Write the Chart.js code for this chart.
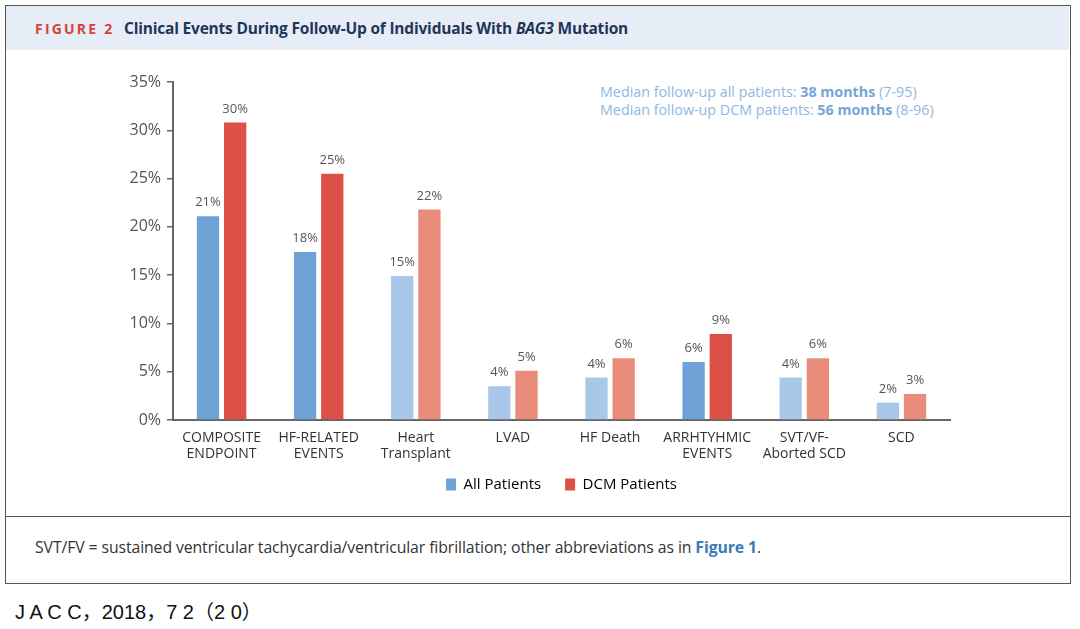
<!DOCTYPE html>
<html>
<head>
<meta charset="utf-8">
<script src="https://cdn.jsdelivr.net/npm/chart.js@4.4.0/dist/chart.umd.min.js"></script>
<style>
  body { margin: 0; width: 1080px; height: 629px; background: #fff; position: relative; overflow: hidden; font-family: "Open Sans", sans-serif; }
  .frame { position: absolute; left: 5px; top: 5px; width: 1066px; height: 579px; border: 1.5px solid #555; box-sizing: border-box; }
  .header { position: absolute; left: 6px; top: 6px; width: 1063px; height: 44px; background: #e6edf6; }
  .header .fig { position: absolute; left: 29px; top: 13px; font-size: 14px; font-weight: 700; letter-spacing: 2.2px; color: #d9413a; }
  .header .title { position: absolute; left: 118px; top: 11px; font-size: 15.5px; font-weight: 700; color: #1f3659; letter-spacing: -0.2px; }
  .sep { position: absolute; left: 5px; top: 516px; width: 1066px; height: 0; border-top: 1.5px solid #555; }
  .note { position: absolute; left: 600px; top: 83px; font-size: 14.3px; line-height: 18px; color: #8fb7e2; }
  .note b { color: #77a5d8; font-weight: 700; }
  .foot { position: absolute; left: 35px; top: 536px; font-size: 15.8px; color: #333; letter-spacing: -0.1px; }
  .foot b { color: #3c79b6; }
  .src { position: absolute; left: 15px; top: 596px; font-size: 20px; color: #111; font-family: "Liberation Sans", "Noto Sans CJK SC", sans-serif; }
  #chart { position: absolute; left: 110px; top: 60px; }
</style>
</head>
<body>
<div class="frame"></div>
<div class="header">
  <span class="fig">FIGURE 2</span>
  <span class="title">Clinical Events During Follow-Up of Individuals With <i>BAG3</i> Mutation</span>
</div>
<div class="note">
  Median follow-up all patients: <b>38 months</b> (7-95)<br>
  Median follow-up DCM patients: <b>56 months</b> (8-96)
</div>
<div class="sep"></div>
<div class="foot">SVT/FV = sustained ventricular tachycardia/ventricular fibrillation; other abbreviations as in <b>Figure 1</b>.</div>
<div class="src">J A C C，2018，7 2（2 0）</div>
<canvas id="chart" width="860" height="442" style="width:860px;height:442px"></canvas>

<script>
const categories = [
  ['COMPOSITE', 'ENDPOINT'],
  ['HF-RELATED', 'EVENTS'],
  ['Heart', 'Transplant'],
  'LVAD',
  'HF Death',
  ['ARRHTYHMIC', 'EVENTS'],
  ['SVT/VF-', 'Aborted SCD'],
  'SCD'
];
const allPatients = [21.1, 17.4, 14.9, 3.5, 4.4, 6.0, 4.4, 1.8];
const dcmPatients = [30.8, 25.5, 21.8, 5.1, 6.4, 8.9, 6.4, 2.7];
const allLabels = ['21%', '18%', '15%', '4%', '4%', '6%', '4%', '2%'];
const dcmLabels = ['30%', '25%', '22%', '5%', '6%', '9%', '6%', '3%'];
const yTicks = [0, 5, 10, 15, 20, 25, 30, 35];

// strong colour for the composite groups, pale for the sub-events
const blueDark = '#6fa3d8', blueLight = '#a9c7e9';
const redDark = '#dc5046', redLight = '#e98c7a';
const strong = [true, true, false, false, false, true, false, false];

const barLabels = {
  id: 'barLabels',
  afterDatasetsDraw(chart) {
    const ctx = chart.ctx;
    ctx.save();
    ctx.font = '13px "Open Sans"';
    ctx.fillStyle = '#555';
    ctx.textAlign = 'center';
    ctx.textBaseline = 'bottom';
    const texts = [allLabels, dcmLabels];
    chart.data.datasets.forEach((ds, i) => {
      chart.getDatasetMeta(i).data.forEach((bar, j) => {
        ctx.fillText(texts[i][j], bar.x, bar.y - 7);
      });
    });
    ctx.restore();
  }
};

new Chart(document.getElementById('chart'), {
  type: 'bar',
  data: {
    labels: categories,
    datasets: [
      {
        label: 'All Patients',
        data: allPatients,
        backgroundColor: strong.map(s => s ? blueDark : blueLight),
        barPercentage: 0.82,
        categoryPercentage: 0.56
      },
      {
        label: 'DCM Patients',
        data: dcmPatients,
        backgroundColor: strong.map(s => s ? redDark : redLight),
        barPercentage: 0.82,
        categoryPercentage: 0.56
      }
    ]
  },
  options: {
    responsive: false,
    animation: false,
    layout: { padding: { top: 22, right: 20, bottom: 0, left: 0 } },
    plugins: {
      tooltip: { enabled: false },
      legend: {
        position: 'bottom',
        fullSize: false,
        labels: {
          boxWidth: 10,
          boxHeight: 12,
          padding: 14,
          color: '#333',
          font: { family: 'Open Sans', size: 15 },
          // en space + thin space widens the gap between the two items
          generateLabels: () => [
            { text: 'All Patients\u2002\u2009', fillStyle: blueDark, strokeStyle: blueDark, lineWidth: 0, datasetIndex: 0 },
            { text: 'DCM Patients', fillStyle: redDark, strokeStyle: redDark, lineWidth: 0, datasetIndex: 1 }
          ]
        }
      }
    },
    scales: {
      x: {
        grid: { display: false, drawTicks: false },
        border: { display: true, color: '#666', width: 2 },
        ticks: {
          color: '#333',
          padding: 10,
          maxRotation: 0,
          autoSkip: false,
          font: { family: 'Open Sans', size: 14, lineHeight: 1.15 }
        },
        afterFit: s => { s.height = 43; }
      },
      y: {
        min: 0,
        max: 35,
        afterBuildTicks: s => { s.ticks = yTicks.map(v => ({ value: v })); },
        grid: { drawOnChartArea: false, drawTicks: true, tickLength: 6, color: '#666', lineWidth: 1.5 },
        border: { display: true, color: '#666', width: 2 },
        ticks: {
          color: '#555',
          padding: 6,
          font: { family: 'Open Sans', size: 16 },
          callback: v => v + '%'
        },
        afterFit: s => { s.width = 63; }
      }
    }
  },
  plugins: [barLabels]
});
</script>
</body>
</html>
